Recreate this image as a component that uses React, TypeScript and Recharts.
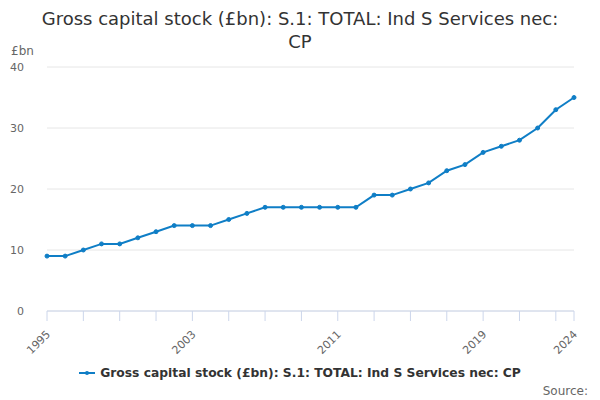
import React from 'react';
import { LineChart, Line, XAxis, YAxis, CartesianGrid } from 'recharts';

const years = [
  1995, 1996, 1997, 1998, 1999, 2000, 2001, 2002, 2003, 2004,
  2005, 2006, 2007, 2008, 2009, 2010, 2011, 2012, 2013, 2014,
  2015, 2016, 2017, 2018, 2019, 2020, 2021, 2022, 2023, 2024,
];
const stock = [
  9, 9, 10, 11, 11, 12, 13, 14, 14, 14,
  15, 16, 17, 17, 17, 17, 17, 17, 19, 19,
  20, 21, 23, 24, 26, 27, 28, 30, 33, 35,
];
const xTicks = [1995, 1997, 1999, 2001, 2003, 2005, 2007, 2009, 2011, 2013, 2015, 2017, 2019, 2021, 2023, 2024];
const xLabels = [1995, 2003, 2011, 2019, 2024];
const yTicks = [0, 10, 20, 30, 40];

const seriesName = 'Gross capital stock (£bn): S.1: TOTAL: Ind S Services nec: CP';
const blue = '#0f7ec6';
const font = '"DejaVu Sans", sans-serif';

const data = years.map((y, i) => ({ year: y, value: stock[i] }));

function XTick(props: any) {
  const { x, y, payload } = props;
  if (!xLabels.includes(payload.value)) return null;
  return (
    <text
      x={x + 4}
      y={y + 12}
      transform={`rotate(-45 ${x + 4} ${y + 12})`}
      textAnchor="end"
      fill="#666"
      fontSize={11}
      fontFamily={font}
    >
      {payload.value}
    </text>
  );
}

export default function App() {
  return (
    <div style={{ position: 'absolute', left: 0, top: 0, width: 600, height: 400, background: '#fff', fontFamily: font }}>
      <div style={{ position: 'absolute', top: 7, left: 0, width: 600, textAlign: 'center', fontSize: 18, color: '#333', lineHeight: '23px' }}>
        <div>Gross capital stock (£bn): S.1: TOTAL: Ind S Services nec:</div>
        <div>CP</div>
      </div>
      <div style={{ position: 'absolute', top: 44, left: 11, fontSize: 12, color: '#666' }}>£bn</div>
      <LineChart width={600} height={400} data={data} margin={{ top: 67, right: 26, bottom: 0, left: 0 }}>
        <CartesianGrid vertical={false} stroke="#e6e6e6" />
        <XAxis
          dataKey="year"
          type="number"
          domain={[1995, 2024]}
          ticks={xTicks}
          interval={0}
          height={89}
          tick={<XTick />}
          stroke="#ccd6eb"
          tickSize={10}
          tickLine={{ stroke: '#ccd6eb' }}
        />
        <YAxis
          domain={[0, 40]}
          ticks={yTicks}
          width={47}
          axisLine={false}
          tickLine={false}
          tickMargin={17}
          tick={{ fill: '#666', fontSize: 11, fontFamily: font }}
        />
        <Line
          type="linear"
          dataKey="value"
          stroke={blue}
          strokeWidth={2}
          dot={{ r: 2, fill: blue, stroke: blue, strokeWidth: 1 }}
          isAnimationActive={false}
        />
      </LineChart>
      <div style={{ position: 'absolute', top: 366, left: 0, width: 600, display: 'flex', justifyContent: 'center', alignItems: 'center' }}>
        <svg width={16} height={10} style={{ marginRight: 5 }}>
          <line x1={0} y1={5} x2={16} y2={5} stroke={blue} strokeWidth={2} />
          <circle cx={8} cy={5} r={2} fill={blue} />
        </svg>
        <span style={{ fontSize: 12.3, fontWeight: 'bold', color: '#333' }}>{seriesName}</span>
      </div>
      <div style={{ position: 'absolute', top: 384, right: 12, fontSize: 12, color: '#666' }}>Source:</div>
    </div>
  );
}
